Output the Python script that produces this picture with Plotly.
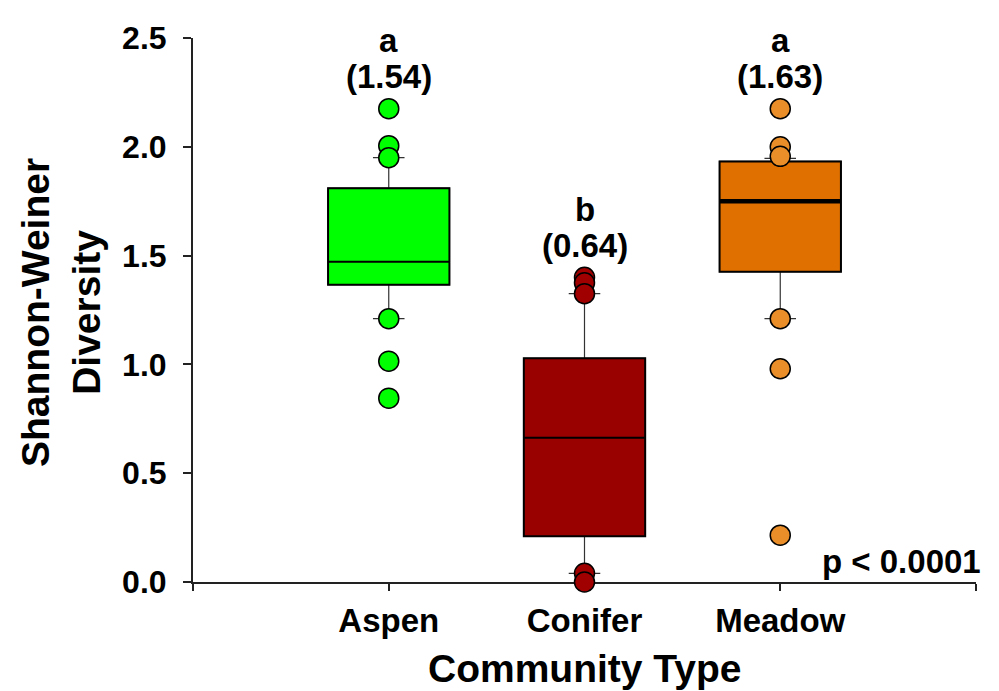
import plotly.graph_objects as go

# ---------------- data ----------------
categories = ["Aspen", "Conifer", "Meadow"]
group_pos = [1, 2, 3]
letters = ["a", "b", "a"]
means = [1.54, 0.64, 1.63]

q1 = [1.366, 0.210, 1.426]
median = [1.472, 0.663, 1.750]
q3 = [1.810, 1.028, 1.933]
lower_whisker = [1.210, 0.040, 1.210]
upper_whisker = [1.950, 1.325, 1.947]

aspen_points = [2.175, 2.005, 1.950, 1.210, 1.015, 0.845]
conifer_points = [1.400, 1.375, 1.325, 0.040, 0.000]
meadow_points = [2.175, 2.000, 1.956, 1.210, 0.980, 0.215]

y_ticks = [0.0, 0.5, 1.0, 1.5, 2.0, 2.5]
p_text = "p < 0.0001"

# ---------------- styles ----------------
box_colors = ["#00FF00", "#990000", "#E07000"]
point_colors = ["#00FF00", "#A00000", "#EA8E2A"]
median_widths = [0, 0, 4.5]
FONT = "Arial, Liberation Sans, sans-serif"
BOX_W = 0.62

points_all = [aspen_points, conifer_points, meadow_points]

fig = go.Figure()

for i, name in enumerate(categories):
    # whiskers + caps (thin)
    fig.add_trace(go.Box(
        x=[group_pos[i]], q1=[q1[i]], median=[median[i]], q3=[q3[i]],
        lowerfence=[lower_whisker[i]], upperfence=[upper_whisker[i]],
        width=BOX_W, whiskerwidth=0.26, boxpoints=False,
        line=dict(color="#333333", width=1.2), fillcolor="rgba(0,0,0,0)",
        showlegend=False, hoverinfo="skip",
    ))
    # box body (thick outline)
    fig.add_trace(go.Box(
        x=[group_pos[i]], q1=[q1[i]], median=[median[i]], q3=[q3[i]],
        lowerfence=[q1[i]], upperfence=[q3[i]],
        width=BOX_W, whiskerwidth=0, boxpoints=False,
        line=dict(color="#000000", width=2), fillcolor=box_colors[i],
        showlegend=False, name=name,
    ))
    if median_widths[i] > 0:
        fig.add_trace(go.Scatter(
            x=[group_pos[i]], y=[median[i]], mode="markers",
            marker=dict(symbol="line-ew", size=86,
                        line=dict(color="#000000", width=median_widths[i])),
            showlegend=False, hoverinfo="skip", cliponaxis=False,
        ))

for i, pts in enumerate(points_all):
    fig.add_trace(go.Scatter(
        x=[group_pos[i]] * len(pts), y=pts, mode="markers",
        marker=dict(size=20, color=point_colors[i],
                    line=dict(color="#000000", width=1.5)),
        showlegend=False, cliponaxis=False,
    ))

annots = []
for i in range(3):
    top = max(points_all[i])
    annots.append(dict(x=group_pos[i], y=top, xref="x", yref="y",
                       text=f"({means[i]:.2f})", showarrow=False,
                       yanchor="middle", yshift=32,
                       font=dict(family=FONT, size=33, color="black", weight="bold")))
    annots.append(dict(x=group_pos[i], y=top, xref="x", yref="y",
                       text=letters[i], showarrow=False,
                       yanchor="middle", yshift=68,
                       font=dict(family=FONT, size=33, color="black", weight="bold")))

annots.append(dict(x=1, y=0, xref="paper", yref="paper", text=p_text,
                   showarrow=False, xanchor="right", yanchor="middle",
                   xshift=7, yshift=21,
                   font=dict(family=FONT, size=33, color="black", weight="bold")))
annots.append(dict(x=0.5, y=0, xref="paper", yref="paper", text="Community Type",
                   showarrow=False, xanchor="center", yanchor="middle",
                   yshift=-86,
                   font=dict(family=FONT, size=39, color="black", weight="bold")))
annots.append(dict(x=0, y=0.5, xref="paper", yref="paper",
                   text="Shannon-Weiner<br>Diversity", textangle=-90,
                   showarrow=False, xanchor="center", yanchor="middle",
                   xshift=-132, yshift=-3,
                   font=dict(family=FONT, size=39, color="black", weight="bold")))

# page body adds an 8px margin, so the figure is 8px smaller on each side
fig.update_layout(
    width=991, height=683,
    margin=dict(l=185, r=23, t=27, b=109),
    paper_bgcolor="white", plot_bgcolor="white",
    boxmode="overlay", showlegend=False,
    annotations=annots,
    xaxis=dict(range=[0, 4], tickvals=[0] + group_pos + [4],
               ticktext=[""] + categories + [""],
               showline=True, linecolor="#222222", linewidth=2,
               ticks="outside", ticklen=7, tickwidth=1.5, tickcolor="#222222",
               showgrid=False, zeroline=False, layer="below traces",
               ticklabelstandoff=1,
               tickfont=dict(family=FONT, size=33, color="black", weight="bold")),
    yaxis=dict(range=[0, 2.5], tickvals=y_ticks, tickformat=".1f",
               showline=True, linecolor="#222222", linewidth=2,
               ticks="outside", ticklen=8, tickwidth=1.5, tickcolor="#222222",
               showgrid=False, zeroline=False, layer="below traces",
               ticklabelstandoff=10,
               tickfont=dict(family=FONT, size=32, color="black", weight="bold")),
)

fig.write_html("out.html")
